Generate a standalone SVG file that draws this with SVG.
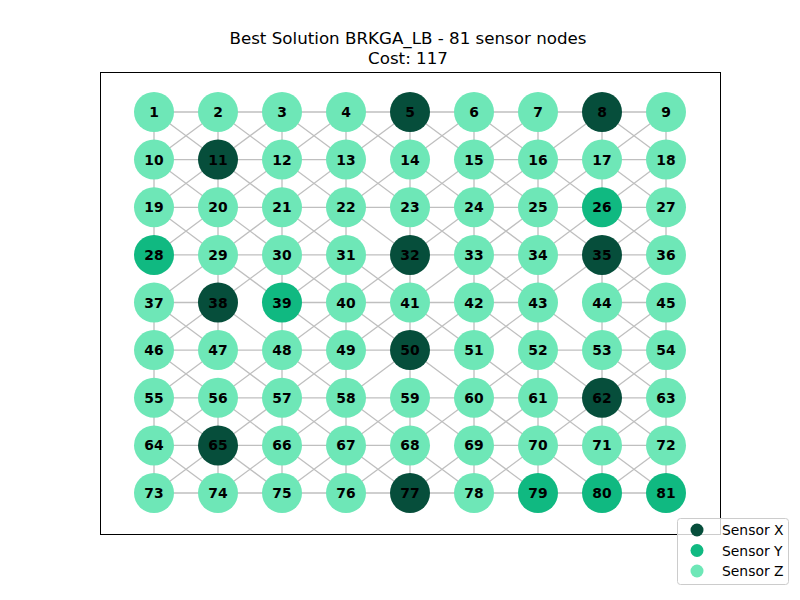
<svg xmlns="http://www.w3.org/2000/svg" width="800" height="600" viewBox="0 0 800 600">
<style>
.e{stroke:#808080;stroke-opacity:.5;stroke-width:1.3;fill:none}
.n circle{stroke:none}
.X{fill:#064e3b}.Y{fill:#10b981}.Z{fill:#6ee7b7}
.n text{font-family:"DejaVu Sans",sans-serif;font-weight:bold;font-size:13.9px;text-anchor:middle;fill:#000}
.t{font-family:"DejaVu Sans",sans-serif;font-size:16.7px;text-anchor:middle;fill:#000}
.lg{font-family:"DejaVu Sans",sans-serif;font-size:13.9px;fill:#000}
</style>
<rect width="800" height="600" fill="#fff"/>
<text class="t" x="408" y="44">Best Solution BRKGA_LB - 81 sensor nodes</text>
<text class="t" x="408" y="64">Cost: 117</text>
<g id="connectors">
<path class="e" d="M154 112H666M154 159.6H346M474 159.6H666M154 207.3H666M154 254.9H666M154 302.5H218M282 302.5H538M602 302.5H666M154 350.1H474M538 350.1H666M154 397.8H666M154 445.4H410M474 445.4H666M154 493H666"/>
<path class="e" d="M154 112V254.9M154 302.5V493M218 112V350.1M218 397.8V493M282 112V493M346 112V493M410 112V493M474 112V493M538 112V493M602 112V207.3M602 254.9V493M666 112V254.9M666 302.5V493"/>
<path class="e" d="M154 112L218 159.6M218 112L282 159.6M282 112L346 159.6M346 112L410 159.6M410 112L474 159.6M474 112L538 159.6M602 112L666 159.6M218 112L154 159.6M282 112L218 159.6M346 112L282 159.6M410 112L346 159.6M474 112L410 159.6M538 112L474 159.6M602 112L538 159.6M666 112L602 159.6"/>
<path class="e" d="M154 159.6L218 207.3L282 159.6L346 207.3L410 159.6L474 207.3L538 159.6L602 207.3L666 159.6M154 207.3L218 159.6L282 207.3L346 159.6L410 207.3L474 159.6L538 207.3L602 159.6L666 207.3"/>
<path class="e" d="M154 207.3L218 254.9M218 207.3L282 254.9M282 207.3L346 254.9M346 207.3L410 254.9M410 207.3L474 254.9M474 207.3L538 254.9M538 207.3L602 254.9M602 207.3L666 254.9M218 207.3L154 254.9M282 207.3L218 254.9M346 207.3L282 254.9M474 207.3L410 254.9M538 207.3L474 254.9M602 207.3L538 254.9M666 207.3L602 254.9"/>
<path class="e" d="M218 254.9L282 302.5M282 254.9L346 302.5M346 254.9L410 302.5M474 254.9L538 302.5M602 254.9L666 302.5M218 254.9L154 302.5M282 254.9L218 302.5M346 254.9L282 302.5M410 254.9L346 302.5M474 254.9L410 302.5M538 254.9L474 302.5M602 254.9L538 302.5M666 254.9L602 302.5"/>
<path class="e" d="M154 302.5L218 350.1M218 302.5L282 350.1M282 302.5L346 350.1M346 302.5L410 350.1M410 302.5L474 350.1M474 302.5L538 350.1M538 302.5L602 350.1M602 302.5L666 350.1M218 302.5L154 350.1M346 302.5L282 350.1M410 302.5L346 350.1M474 302.5L410 350.1M538 302.5L474 350.1M666 302.5L602 350.1"/>
<path class="e" d="M154 350.1L218 397.8M218 350.1L282 397.8M282 350.1L346 397.8M410 350.1L474 397.8M474 350.1L538 397.8M538 350.1L602 397.8M602 350.1L666 397.8M218 350.1L154 397.8M282 350.1L218 397.8M346 350.1L282 397.8M410 350.1L346 397.8M538 350.1L474 397.8M666 350.1L602 397.8"/>
<path class="e" d="M154 397.8L218 445.4L282 397.8L346 445.4L410 397.8L474 445.4L538 397.8L602 445.4L666 397.8M154 445.4L218 397.8L282 445.4L346 397.8L410 445.4L474 397.8L538 445.4L602 397.8L666 445.4"/>
<path class="e" d="M154 445.4L218 493M218 445.4L282 493M282 445.4L346 493M346 445.4L410 493M410 445.4L474 493M474 445.4L538 493M538 445.4L602 493M602 445.4L666 493M218 445.4L154 493M282 445.4L218 493M346 445.4L282 493M410 445.4L346 493M474 445.4L410 493M538 445.4L474 493M666 445.4L602 493"/>
</g>
<g id="nodes">
<g id="n1" class="n"><circle class="Z" cx="154" cy="112" r="20"/><text x="154" y="117">1</text></g>
<g id="n2" class="n"><circle class="Z" cx="218" cy="112" r="20"/><text x="218" y="117">2</text></g>
<g id="n3" class="n"><circle class="Z" cx="282" cy="112" r="20"/><text x="282" y="117">3</text></g>
<g id="n4" class="n"><circle class="Z" cx="346" cy="112" r="20"/><text x="346" y="117">4</text></g>
<g id="n5" class="n"><circle class="X" cx="410" cy="112" r="20"/><text x="410" y="117">5</text></g>
<g id="n6" class="n"><circle class="Z" cx="474" cy="112" r="20"/><text x="474" y="117">6</text></g>
<g id="n7" class="n"><circle class="Z" cx="538" cy="112" r="20"/><text x="538" y="117">7</text></g>
<g id="n8" class="n"><circle class="X" cx="602" cy="112" r="20"/><text x="602" y="117">8</text></g>
<g id="n9" class="n"><circle class="Z" cx="666" cy="112" r="20"/><text x="666" y="117">9</text></g>
<g id="n10" class="n"><circle class="Z" cx="154" cy="159.6" r="20"/><text x="154" y="164.6">10</text></g>
<g id="n11" class="n"><circle class="X" cx="218" cy="159.6" r="20"/><text x="218" y="164.6">11</text></g>
<g id="n12" class="n"><circle class="Z" cx="282" cy="159.6" r="20"/><text x="282" y="164.6">12</text></g>
<g id="n13" class="n"><circle class="Z" cx="346" cy="159.6" r="20"/><text x="346" y="164.6">13</text></g>
<g id="n14" class="n"><circle class="Z" cx="410" cy="159.6" r="20"/><text x="410" y="164.6">14</text></g>
<g id="n15" class="n"><circle class="Z" cx="474" cy="159.6" r="20"/><text x="474" y="164.6">15</text></g>
<g id="n16" class="n"><circle class="Z" cx="538" cy="159.6" r="20"/><text x="538" y="164.6">16</text></g>
<g id="n17" class="n"><circle class="Z" cx="602" cy="159.6" r="20"/><text x="602" y="164.6">17</text></g>
<g id="n18" class="n"><circle class="Z" cx="666" cy="159.6" r="20"/><text x="666" y="164.6">18</text></g>
<g id="n19" class="n"><circle class="Z" cx="154" cy="207.3" r="20"/><text x="154" y="212.3">19</text></g>
<g id="n20" class="n"><circle class="Z" cx="218" cy="207.3" r="20"/><text x="218" y="212.3">20</text></g>
<g id="n21" class="n"><circle class="Z" cx="282" cy="207.3" r="20"/><text x="282" y="212.3">21</text></g>
<g id="n22" class="n"><circle class="Z" cx="346" cy="207.3" r="20"/><text x="346" y="212.3">22</text></g>
<g id="n23" class="n"><circle class="Z" cx="410" cy="207.3" r="20"/><text x="410" y="212.3">23</text></g>
<g id="n24" class="n"><circle class="Z" cx="474" cy="207.3" r="20"/><text x="474" y="212.3">24</text></g>
<g id="n25" class="n"><circle class="Z" cx="538" cy="207.3" r="20"/><text x="538" y="212.3">25</text></g>
<g id="n26" class="n"><circle class="Y" cx="602" cy="207.3" r="20"/><text x="602" y="212.3">26</text></g>
<g id="n27" class="n"><circle class="Z" cx="666" cy="207.3" r="20"/><text x="666" y="212.3">27</text></g>
<g id="n28" class="n"><circle class="Y" cx="154" cy="254.9" r="20"/><text x="154" y="259.9">28</text></g>
<g id="n29" class="n"><circle class="Z" cx="218" cy="254.9" r="20"/><text x="218" y="259.9">29</text></g>
<g id="n30" class="n"><circle class="Z" cx="282" cy="254.9" r="20"/><text x="282" y="259.9">30</text></g>
<g id="n31" class="n"><circle class="Z" cx="346" cy="254.9" r="20"/><text x="346" y="259.9">31</text></g>
<g id="n32" class="n"><circle class="X" cx="410" cy="254.9" r="20"/><text x="410" y="259.9">32</text></g>
<g id="n33" class="n"><circle class="Z" cx="474" cy="254.9" r="20"/><text x="474" y="259.9">33</text></g>
<g id="n34" class="n"><circle class="Z" cx="538" cy="254.9" r="20"/><text x="538" y="259.9">34</text></g>
<g id="n35" class="n"><circle class="X" cx="602" cy="254.9" r="20"/><text x="602" y="259.9">35</text></g>
<g id="n36" class="n"><circle class="Z" cx="666" cy="254.9" r="20"/><text x="666" y="259.9">36</text></g>
<g id="n37" class="n"><circle class="Z" cx="154" cy="302.5" r="20"/><text x="154" y="307.5">37</text></g>
<g id="n38" class="n"><circle class="X" cx="218" cy="302.5" r="20"/><text x="218" y="307.5">38</text></g>
<g id="n39" class="n"><circle class="Y" cx="282" cy="302.5" r="20"/><text x="282" y="307.5">39</text></g>
<g id="n40" class="n"><circle class="Z" cx="346" cy="302.5" r="20"/><text x="346" y="307.5">40</text></g>
<g id="n41" class="n"><circle class="Z" cx="410" cy="302.5" r="20"/><text x="410" y="307.5">41</text></g>
<g id="n42" class="n"><circle class="Z" cx="474" cy="302.5" r="20"/><text x="474" y="307.5">42</text></g>
<g id="n43" class="n"><circle class="Z" cx="538" cy="302.5" r="20"/><text x="538" y="307.5">43</text></g>
<g id="n44" class="n"><circle class="Z" cx="602" cy="302.5" r="20"/><text x="602" y="307.5">44</text></g>
<g id="n45" class="n"><circle class="Z" cx="666" cy="302.5" r="20"/><text x="666" y="307.5">45</text></g>
<g id="n46" class="n"><circle class="Z" cx="154" cy="350.1" r="20"/><text x="154" y="355.1">46</text></g>
<g id="n47" class="n"><circle class="Z" cx="218" cy="350.1" r="20"/><text x="218" y="355.1">47</text></g>
<g id="n48" class="n"><circle class="Z" cx="282" cy="350.1" r="20"/><text x="282" y="355.1">48</text></g>
<g id="n49" class="n"><circle class="Z" cx="346" cy="350.1" r="20"/><text x="346" y="355.1">49</text></g>
<g id="n50" class="n"><circle class="X" cx="410" cy="350.1" r="20"/><text x="410" y="355.1">50</text></g>
<g id="n51" class="n"><circle class="Z" cx="474" cy="350.1" r="20"/><text x="474" y="355.1">51</text></g>
<g id="n52" class="n"><circle class="Z" cx="538" cy="350.1" r="20"/><text x="538" y="355.1">52</text></g>
<g id="n53" class="n"><circle class="Z" cx="602" cy="350.1" r="20"/><text x="602" y="355.1">53</text></g>
<g id="n54" class="n"><circle class="Z" cx="666" cy="350.1" r="20"/><text x="666" y="355.1">54</text></g>
<g id="n55" class="n"><circle class="Z" cx="154" cy="397.8" r="20"/><text x="154" y="402.8">55</text></g>
<g id="n56" class="n"><circle class="Z" cx="218" cy="397.8" r="20"/><text x="218" y="402.8">56</text></g>
<g id="n57" class="n"><circle class="Z" cx="282" cy="397.8" r="20"/><text x="282" y="402.8">57</text></g>
<g id="n58" class="n"><circle class="Z" cx="346" cy="397.8" r="20"/><text x="346" y="402.8">58</text></g>
<g id="n59" class="n"><circle class="Z" cx="410" cy="397.8" r="20"/><text x="410" y="402.8">59</text></g>
<g id="n60" class="n"><circle class="Z" cx="474" cy="397.8" r="20"/><text x="474" y="402.8">60</text></g>
<g id="n61" class="n"><circle class="Z" cx="538" cy="397.8" r="20"/><text x="538" y="402.8">61</text></g>
<g id="n62" class="n"><circle class="X" cx="602" cy="397.8" r="20"/><text x="602" y="402.8">62</text></g>
<g id="n63" class="n"><circle class="Z" cx="666" cy="397.8" r="20"/><text x="666" y="402.8">63</text></g>
<g id="n64" class="n"><circle class="Z" cx="154" cy="445.4" r="20"/><text x="154" y="450.4">64</text></g>
<g id="n65" class="n"><circle class="X" cx="218" cy="445.4" r="20"/><text x="218" y="450.4">65</text></g>
<g id="n66" class="n"><circle class="Z" cx="282" cy="445.4" r="20"/><text x="282" y="450.4">66</text></g>
<g id="n67" class="n"><circle class="Z" cx="346" cy="445.4" r="20"/><text x="346" y="450.4">67</text></g>
<g id="n68" class="n"><circle class="Z" cx="410" cy="445.4" r="20"/><text x="410" y="450.4">68</text></g>
<g id="n69" class="n"><circle class="Z" cx="474" cy="445.4" r="20"/><text x="474" y="450.4">69</text></g>
<g id="n70" class="n"><circle class="Z" cx="538" cy="445.4" r="20"/><text x="538" y="450.4">70</text></g>
<g id="n71" class="n"><circle class="Z" cx="602" cy="445.4" r="20"/><text x="602" y="450.4">71</text></g>
<g id="n72" class="n"><circle class="Z" cx="666" cy="445.4" r="20"/><text x="666" y="450.4">72</text></g>
<g id="n73" class="n"><circle class="Z" cx="154" cy="493" r="20"/><text x="154" y="498">73</text></g>
<g id="n74" class="n"><circle class="Z" cx="218" cy="493" r="20"/><text x="218" y="498">74</text></g>
<g id="n75" class="n"><circle class="Z" cx="282" cy="493" r="20"/><text x="282" y="498">75</text></g>
<g id="n76" class="n"><circle class="Z" cx="346" cy="493" r="20"/><text x="346" y="498">76</text></g>
<g id="n77" class="n"><circle class="X" cx="410" cy="493" r="20"/><text x="410" y="498">77</text></g>
<g id="n78" class="n"><circle class="Z" cx="474" cy="493" r="20"/><text x="474" y="498">78</text></g>
<g id="n79" class="n"><circle class="Y" cx="538" cy="493" r="20"/><text x="538" y="498">79</text></g>
<g id="n80" class="n"><circle class="Y" cx="602" cy="493" r="20"/><text x="602" y="498">80</text></g>
<g id="n81" class="n"><circle class="Y" cx="666" cy="493" r="20"/><text x="666" y="498">81</text></g>
</g>
<rect x="100.5" y="72.5" width="620" height="462" fill="none" stroke="#000" stroke-width="1"/>
<g id="legend">
<rect x="677.5" y="518.5" width="111" height="66" rx="3" fill="#fff" fill-opacity="0.8" stroke="#ccc" stroke-width="1"/>
<circle class="X" cx="697" cy="530" r="6.5"/>
<circle class="Y" cx="697" cy="550.5" r="6.5"/>
<circle class="Z" cx="697" cy="571" r="6.5"/>
<text class="lg" x="722" y="535">Sensor X</text>
<text class="lg" x="722" y="555.5">Sensor Y</text>
<text class="lg" x="722" y="576">Sensor Z</text>
</g>
</svg>
